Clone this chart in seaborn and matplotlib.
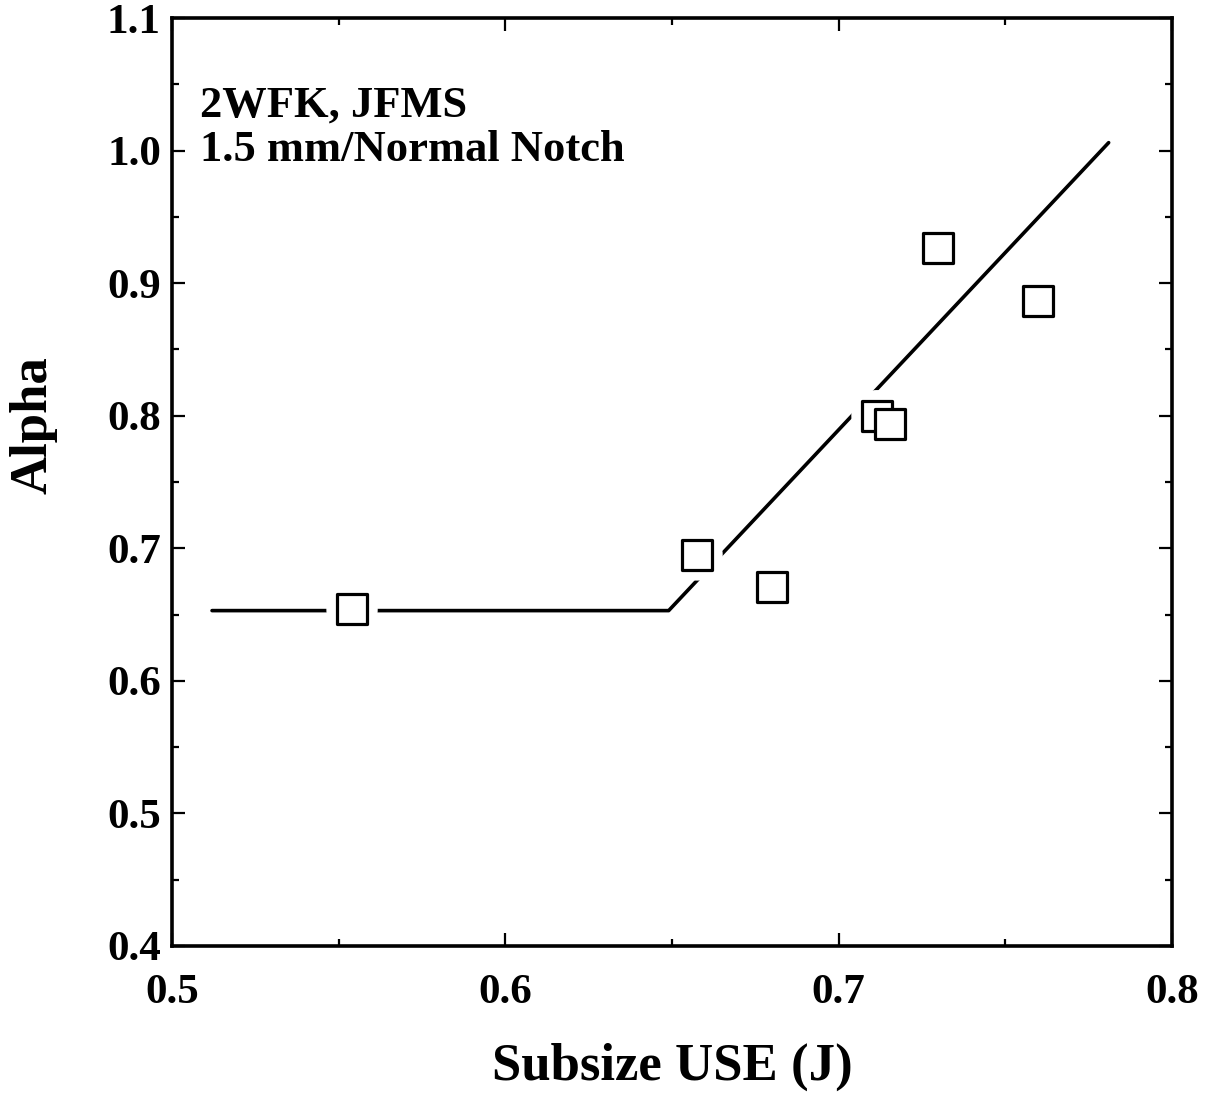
import numpy as np
import pandas as pd
import matplotlib
matplotlib.use("Agg")
import matplotlib.pyplot as plt
from matplotlib.ticker import MultipleLocator, FormatStrFormatter
import seaborn as sns

# Measured data: subsize upper-shelf energy vs. alpha
use_j = [0.554, 0.6575, 0.680, 0.7115, 0.7154, 0.7298, 0.7598]
alpha = [0.654, 0.695, 0.671, 0.800, 0.794, 0.9265, 0.8865]

# Bilinear fit: lower plateau then linear rise
fit_x = [0.512, 0.649, 0.781]
fit_y = [0.653, 0.653, 1.006]

x_ticks = [0.5, 0.6, 0.7, 0.8]
y_ticks = [0.4, 0.5, 0.6, 0.7, 0.8, 0.9, 1.0, 1.1]

pts = pd.DataFrame({"use": use_j, "alpha": alpha})
fit = pd.DataFrame({"use": fit_x, "alpha": fit_y})

sns.set_theme(style="white")
plt.rcParams["font.family"] = ["Liberation Serif", "DejaVu Serif"]
plt.rcParams["font.weight"] = "bold"
plt.rcParams["text.color"] = "black"
plt.rcParams["axes.labelcolor"] = "black"
plt.rcParams["xtick.color"] = "black"
plt.rcParams["ytick.color"] = "black"

fig = plt.figure(figsize=(12.15, 11.0), dpi=100)
ax = fig.add_axes([0.1416, 0.14, 0.823, 0.8436])

sns.lineplot(data=fit, x="use", y="alpha", color="black", linewidth=2.6,
             sort=False, estimator=None, ax=ax, zorder=1)
# white clearance around each marker so the fit line breaks near points
sns.scatterplot(data=pts, x="use", y="alpha", marker="o", s=37**2,
                color="white", edgecolor="none", linewidth=0, ax=ax, zorder=2)
sns.scatterplot(data=pts, x="use", y="alpha", marker="s", s=21**2,
                facecolor="white", edgecolor="black", linewidth=2.3, ax=ax, zorder=3)

ax.set_xlim(0.5, 0.8)
ax.set_ylim(0.4, 1.1)
ax.set_xticks(x_ticks)
ax.set_yticks(y_ticks)
ax.xaxis.set_major_formatter(FormatStrFormatter("%.1f"))
ax.yaxis.set_major_formatter(FormatStrFormatter("%.1f"))
ax.xaxis.set_minor_locator(MultipleLocator(0.05))
ax.yaxis.set_minor_locator(MultipleLocator(0.05))

ax.tick_params(which="both", direction="in", top=True, right=True,
               bottom=True, left=True, color="black", width=1.6)
ax.tick_params(which="major", length=9.5, labelsize=31, labelcolor="black")
ax.tick_params(which="minor", length=5)
ax.tick_params(axis="x", which="major", pad=20)
ax.tick_params(axis="y", which="major", pad=8)
for lab in ax.get_xticklabels() + ax.get_yticklabels():
    lab.set_fontweight("bold")

for sp in ax.spines.values():
    sp.set_visible(True)
    sp.set_color("black")
    sp.set_linewidth(2.6)

ax.set_xlabel("Subsize USE (J)", fontsize=38, fontweight="bold", labelpad=22,
              color="black")
ax.set_ylabel("Alpha", fontsize=38, fontweight="bold", color="black")
ax.yaxis.label.set_va("center")
ax.yaxis.set_label_coords(-0.139, 0.561)

ax.text(0.028, 0.927, "2WFK, JFMS\n1.5 mm/Normal Notch", transform=ax.transAxes,
        ha="left", va="top", fontsize=32, fontweight="bold", linespacing=1.12,
        color="black")

ax.grid(False)
fig.savefig("out.png", dpi=100, facecolor="white")
